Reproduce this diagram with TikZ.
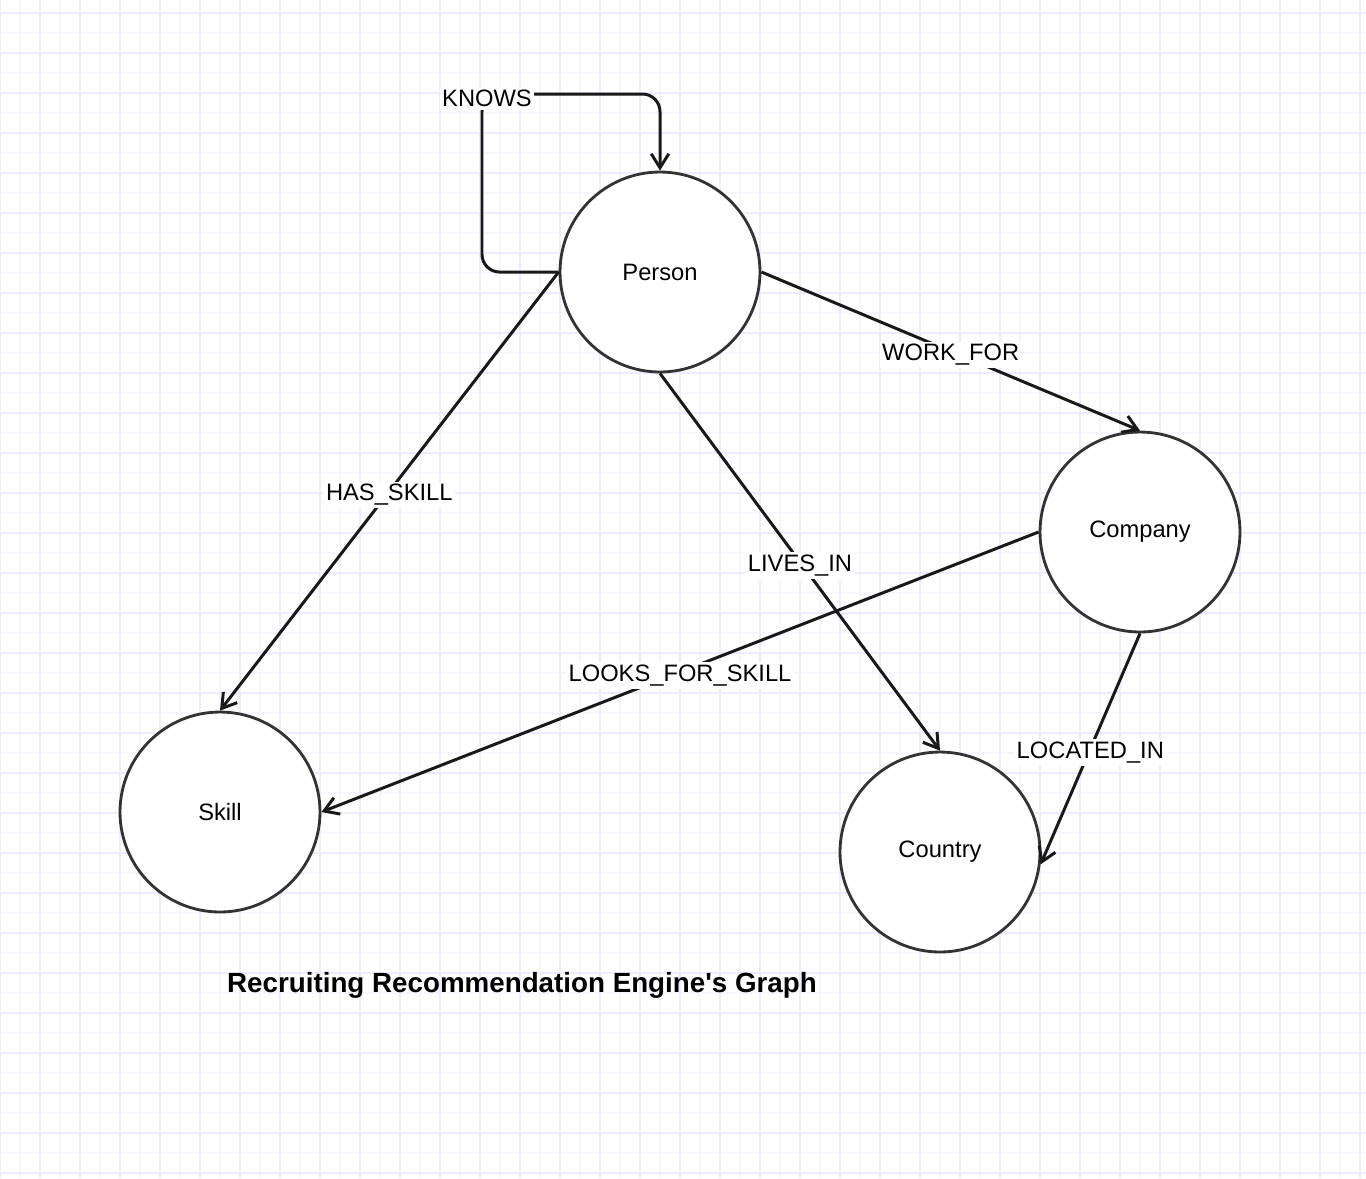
\documentclass[tikz,border=0pt]{standalone}
\usepackage{fontspec}
\setmainfont{Liberation Sans}
\usetikzlibrary{arrows.meta}
\definecolor{gridmaj}{RGB}{236,236,255}
\definecolor{gridmin}{RGB}{246,246,255}
\definecolor{rimgray}{RGB}{51,51,51}

\begin{document}
\begin{tikzpicture}[
    x=0.02cm, y=-0.02cm,
    ent/.style={circle, draw=rimgray, line width=1.6pt, fill=white, minimum size=4cm, inner sep=0pt, font=\fontsize{13.5}{16}\selectfont}, % 实体
    lbl/.style={fill=white, inner sep=1.5pt, yshift=-2pt, font=\fontsize{13.5}{16}\selectfont}, % 关系标签
    arrow/.style={-{Straight Barb[length=8pt, width=10pt]}, line width=1.7pt, draw=black!90}
]
\useasboundingbox (0,0) rectangle (1366,1178);

% 背景网格
\fill[white] (0,0) rectangle (1366,1178);
\foreach \gx in {20,60,...,1366} \draw[gridmin, line width=1pt] (\gx,0) -- (\gx,1178);
\foreach \gy in {33,73,...,1178} \draw[gridmin, line width=1pt] (0,\gy) -- (1366,\gy);
\foreach \gx in {0,40,...,1366} \draw[gridmaj, line width=1pt] (\gx,0) -- (\gx,1178);
\foreach \gy in {13,53,...,1178} \draw[gridmaj, line width=1pt] (0,\gy) -- (1366,\gy);

% 实体节点
\node[ent] (person) at (660,272) {Person};
\node[ent] (company) at (1140,532) {Company};
\node[ent] (skill) at (220,812) {Skill};
\node[ent] (country) at (940,852) {Country};

% 关系
\coordinate (kc) at (482,94);
\draw[arrow, rounded corners=10pt] (person.west) -| (kc) -| (person.north);
\node[lbl] (lknows) at (487,95) {KNOWS};

\draw[arrow] (person.west) -- (skill.north) node[lbl, pos=0.5] (lskill) {HAS\_SKILL};
\draw[arrow] (person.east) -- (company.north) node[lbl, pos=0.5] (lwork) {WORK\_FOR};
\draw[arrow] (person.south) -- (country.north) node[lbl, pos=0.5] (llive) {LIVES\_IN};
\draw[arrow] (company.west) -- (skill.east) node[lbl, pos=0.5] (llook) {LOOKS\_FOR\_SKILL};
\draw[arrow] (company.south) -- (country.-7) node[lbl, pos=0.5] (lloc) {LOCATED\_IN};

% 标题
\node[font=\fontsize{15.8}{18}\selectfont\bfseries] (title) at (522,985) {Recruiting Recommendation Engine\textquotesingle s Graph};
\end{tikzpicture}
\end{document}
